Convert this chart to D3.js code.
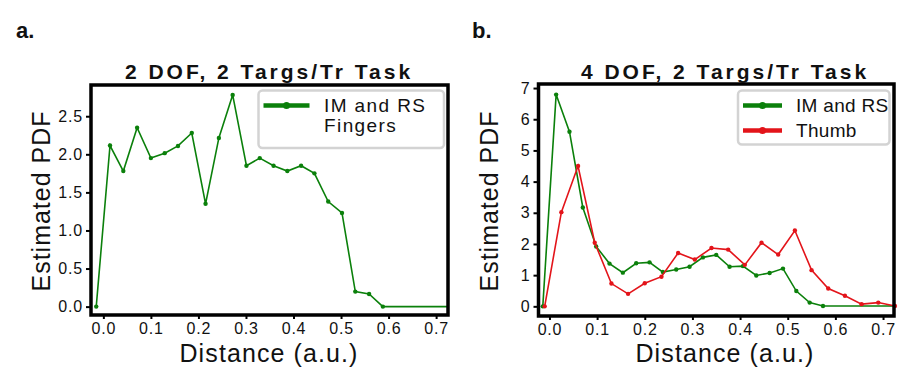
<!DOCTYPE html>
<html>
<head>
<meta charset="utf-8">
<script src="https://cdn.jsdelivr.net/npm/d3@7"></script>
<style>
  body { margin: 0; background: #fff; }
  svg text { font-family: "Liberation Sans", Arial, sans-serif; fill: #111; }
</style>
</head>
<body>
<div class="chart"></div>
<script>
// panel a: 2 DOF task
const distA = [-0.015, 0.014, 0.042, 0.071, 0.100, 0.129, 0.157, 0.186, 0.215, 0.243, 0.272,
  0.301, 0.329, 0.358, 0.387, 0.416, 0.444, 0.473, 0.502, 0.530, 0.559, 0.588];
const pdfA = [0, 2.115, 1.78, 2.35, 1.95, 2.015, 2.11, 2.28, 1.35, 2.215, 2.78,
  1.85, 1.95, 1.85, 1.78, 1.85, 1.75, 1.38, 1.23, 0.197, 0.166, 0];

// panel b: 4 DOF task
const distBFingers = [-0.014, 0.014, 0.042, 0.070, 0.098, 0.126, 0.154, 0.182, 0.210, 0.238, 0.266,
  0.294, 0.322, 0.350, 0.378, 0.406, 0.434, 0.462, 0.490, 0.518, 0.546, 0.574];
const pdfBFingers = [0, 6.79, 5.60, 3.17, 1.92, 1.37, 1.08, 1.38, 1.41, 1.10, 1.18,
  1.27, 1.57, 1.65, 1.27, 1.29, 0.99, 1.07, 1.21, 0.49, 0.12, 0.01];
const distBThumb = [-0.010, 0.025, 0.060, 0.095, 0.130, 0.165, 0.200, 0.235, 0.270, 0.305, 0.340,
  0.375, 0.410, 0.445, 0.480, 0.515, 0.550, 0.585, 0.620, 0.655, 0.690, 0.725];
const pdfBThumb = [0, 3.02, 4.50, 2.04, 0.73, 0.40, 0.74, 0.95, 1.71, 1.50, 1.87,
  1.82, 1.33, 2.04, 1.66, 2.43, 1.16, 0.57, 0.34, 0.07, 0.12, 0.01];

const xTicks = [0, 0.1, 0.2, 0.3, 0.4, 0.5, 0.6, 0.7];
const yTicksA = [0, 0.5, 1.0, 1.5, 2.0, 2.5];
const yTicksB = [0, 1, 2, 3, 4, 5, 6, 7];

const GREEN = '#0b800b';
const RED = '#e3141a';

let svg = d3.select('.chart').append('svg').attr('width', 922).attr('height', 389);

function drawPanel(p) {
  let xScale = d3.scaleLinear().domain(p.xDomain).range([p.left, p.right]);
  let yScale = d3.scaleLinear().domain(p.yDomain).range([p.bottom, p.top]);

  let g = svg.append('g');

  // axes
  let xAxis = g.append('g')
    .attr('transform', `translate(0,${p.bottom})`)
    .call(d3.axisBottom(xScale).tickValues(xTicks).tickSize(4).tickPadding(3.5).tickFormat(d3.format('.1f')));
  let yAxis = g.append('g')
    .attr('transform', `translate(${p.left},0)`)
    .call(d3.axisLeft(yScale).tickValues(p.yTicks).tickSize(5).tickPadding(3).tickFormat(p.yFormat));
  [xAxis, yAxis].forEach(function (a) {
    a.select('.domain').remove();
    a.selectAll('line').attr('stroke', '#000').attr('stroke-width', 2);
    a.selectAll('text').attr('font-size', 16).attr('letter-spacing', 0.8).attr('fill', '#111');
  });

  // series
  p.series.forEach(function (s) {
    let pts = s.x.map(function (d, i) { return [d, s.y[i]]; });
    let linePts = pts.slice();
    if (s.tail) linePts.push([p.xDomain[1], s.y[s.y.length - 1]]);
    let line = d3.line()
      .x(function (d) { return xScale(d[0]); })
      .y(function (d) { return yScale(d[1]); });
    g.append('path').datum(linePts)
      .attr('fill', 'none').attr('stroke', s.color).attr('stroke-width', 1.6).attr('d', line);
    g.selectAll(null).data(pts).enter().append('circle')
      .attr('cx', function (d) { return xScale(d[0]); })
      .attr('cy', function (d) { return yScale(d[1]); })
      .attr('r', 2.2).attr('fill', s.color);
  });

  // frame
  g.append('rect')
    .attr('x', p.left).attr('y', p.top)
    .attr('width', p.right - p.left).attr('height', p.bottom - p.top)
    .attr('fill', 'none').attr('stroke', '#000').attr('stroke-width', 3.5);

  // legend
  let lg = g.append('g');
  lg.append('rect')
    .attr('x', p.legend.x).attr('y', p.legend.y)
    .attr('width', p.legend.w).attr('height', p.legend.h)
    .attr('rx', 4).attr('fill', '#fff').attr('stroke', '#d3d3d3').attr('stroke-width', 2.5);
  p.series.forEach(function (s, i) {
    let ly = p.legend.y + 15 + i * 25;
    lg.append('line')
      .attr('x1', p.legend.x + 5).attr('x2', p.legend.x + 5 + p.legend.lineW)
      .attr('y1', ly).attr('y2', ly)
      .attr('stroke', s.color).attr('stroke-width', 4.5);
    lg.append('circle')
      .attr('cx', p.legend.x + 5 + p.legend.lineW / 2).attr('cy', ly)
      .attr('r', 3.5).attr('fill', s.color);
    let t = lg.append('text')
      .attr('x', p.legend.x + p.legend.textX).attr('y', ly + 6)
      .attr('font-size', 19).attr('letter-spacing', p.legend.spacing);
    s.label.forEach(function (l, j) {
      t.append('tspan').attr('x', p.legend.x + p.legend.textX).attr('dy', j === 0 ? 0 : 20).text(l);
    });
  });

  // titles
  g.append('text')
    .attr('x', p.titleX).attr('y', 79)
    .attr('text-anchor', 'middle').attr('font-size', 21).attr('font-weight', 'bold')
    .attr('letter-spacing', 3).attr('fill', '#000')
    .text(p.title);
  g.append('text')
    .attr('x', p.titleX).attr('y', 362)
    .attr('text-anchor', 'middle').attr('font-size', 25).attr('letter-spacing', 1.1)
    .text('Distance (a.u.)');
  g.append('text')
    .attr('transform', `translate(${p.left - 41},201) rotate(-90)`)
    .attr('text-anchor', 'middle').attr('font-size', 25).attr('letter-spacing', 1)
    .text('Estimated PDF');
  g.append('text')
    .attr('x', p.tagX).attr('y', 38)
    .attr('font-size', 22).attr('font-weight', 'bold').attr('fill', '#000')
    .text(p.tag);
}

drawPanel({
  left: 91, right: 448, top: 85, bottom: 315,
  xDomain: [-0.026, 0.725], yDomain: [-0.11, 2.91],
  yTicks: yTicksA, yFormat: d3.format('.1f'),
  series: [{ x: distA, y: pdfA, color: GREEN, label: ['IM and RS', 'Fingers'], tail: true }],
  legend: { x: 258.5, y: 90.5, w: 185.5, h: 57.5, lineW: 46, textX: 65.5, spacing: 1.4 },
  title: '2 DOF, 2 Targs/Tr Task', titleX: 269, tag: 'a.', tagX: 16
});

drawPanel({
  left: 538.5, right: 894, top: 84, bottom: 316,
  xDomain: [-0.023, 0.723], yDomain: [-0.31, 7.13],
  yTicks: yTicksB, yFormat: d3.format('d'),
  series: [
    { x: distBFingers, y: pdfBFingers, color: GREEN, label: ['IM and RS'], tail: true },
    { x: distBThumb, y: pdfBThumb, color: RED, label: ['Thumb'], tail: false }
  ],
  legend: { x: 738, y: 90.5, w: 151.5, h: 54, lineW: 39, textX: 58, spacing: 0.3 },
  title: '4 DOF, 2 Targs/Tr Task', titleX: 725, tag: 'b.', tagX: 472
});
</script>
</body>
</html>
